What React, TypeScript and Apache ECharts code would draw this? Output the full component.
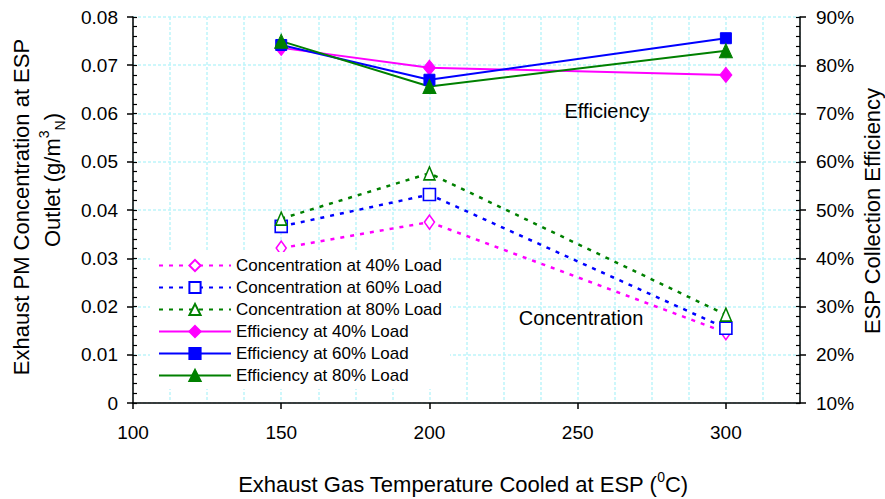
import React, { useEffect, useRef } from 'react';
import * as echarts from 'echarts';

const FONT = "'Liberation Sans', Arial, Helvetica, sans-serif";

// Data
const temps = [150, 200, 300];
const conc40 = [0.0321, 0.0375, 0.0146];
const conc60 = [0.0366, 0.0432, 0.0155];
const conc80 = [0.0382, 0.0476, 0.0183];
const eff40 = [83.6, 79.5, 78.0];
const eff60 = [84.2, 77.0, 85.6];
const eff80 = [85.0, 75.6, 83.0];

const seriesNames = [
  'Concentration at 40% Load',
  'Concentration at 60% Load',
  'Concentration at 80% Load',
  'Efficiency at 40% Load',
  'Efficiency at 60% Load',
  'Efficiency at 80% Load',
];

const MAGENTA = '#ff00ff';
const BLUE = '#0000ff';
const GREEN = '#008000';
const GRID_COLOR = '#bdf5fa';

const pairs = (vals: number[]) => temps.map((t, i) => [t, vals[i]]);

function concSeries(name: string, vals: number[], color: string, symbol: string, size: any) {
  return {
    name,
    type: 'line',
    xAxisIndex: 0,
    yAxisIndex: 0,
    data: pairs(vals),
    symbol,
    symbolSize: size,
    lineStyle: { color, width: 2.5, type: [4, 6], cap: 'butt' },
    itemStyle: { color: '#ffffff', borderColor: color, borderWidth: 1.6 },
    emphasis: { disabled: true },
  };
}

function effSeries(name: string, vals: number[], color: string, symbol: string, size: any) {
  return {
    name,
    type: 'line',
    xAxisIndex: 0,
    yAxisIndex: 1,
    data: pairs(vals),
    symbol,
    symbolSize: size,
    lineStyle: { color, width: 2 },
    itemStyle: { color, borderColor: color, borderWidth: 1 },
    emphasis: { disabled: true },
  };
}

const gridLineStyle = { color: GRID_COLOR, width: 1.5, type: [3, 2] };

const option: any = {
  animation: false,
  textStyle: { fontFamily: FONT },
  grid: { left: 133, right: 85, top: 17, bottom: 96 },
  legend: {
    orient: 'vertical',
    left: 150,
    top: 252,
    z: 10,
    padding: [5, 8, 5, 8],
    backgroundColor: '#ffffff',
    itemWidth: 72,
    itemHeight: 14,
    itemGap: 5,
    data: seriesNames,
    textStyle: { fontFamily: FONT, fontSize: 17, color: '#000', lineHeight: 17 },
  },
  xAxis: [
    {
      type: 'value',
      min: 100,
      max: 325,
      interval: 50,
      position: 'bottom',
      z: 3,
      axisLine: { show: true, lineStyle: { color: '#000', width: 1.5 } },
      axisTick: { show: true, inside: false, length: 6, lineStyle: { color: '#000', width: 1.5 } },
      axisLabel: { show: true, margin: 20, fontSize: 19, color: '#000', fontFamily: FONT, showMaxLabel: false },
      splitLine: { show: false },
    },
    {
      type: 'value',
      min: 100,
      max: 325,
      interval: 12.5,
      position: 'bottom',
      z: 0,
      axisLine: { show: false },
      axisTick: { show: false },
      axisLabel: { show: false },
      splitLine: { show: true, lineStyle: gridLineStyle },
    },
  ],
  yAxis: [
    {
      type: 'value',
      min: 0,
      max: 0.08,
      interval: 0.01,
      position: 'left',
      z: 3,
      axisLine: { show: true, lineStyle: { color: '#000', width: 1.5 } },
      axisTick: { show: true, inside: false, length: 6, lineStyle: { color: '#000', width: 1.5 } },
      axisLabel: {
        margin: 15,
        fontSize: 19,
        color: '#000',
        fontFamily: FONT,
        formatter: (v: number) => (v === 0 ? '0' : v.toFixed(2)),
      },
      splitLine: { show: false },
    },
    {
      type: 'value',
      min: 10,
      max: 90,
      interval: 10,
      position: 'right',
      z: 3,
      axisLine: { show: true, lineStyle: { color: '#000', width: 1.5 } },
      axisTick: { show: true, inside: false, length: 6, lineStyle: { color: '#000', width: 1.5 } },
      axisLabel: {
        margin: 16,
        fontSize: 19,
        color: '#000',
        fontFamily: FONT,
        formatter: (v: number) => `${v}%`,
      },
      splitLine: { show: false },
    },
    {
      type: 'value',
      min: 0,
      max: 0.08,
      interval: 0.002,
      position: 'left',
      z: 3,
      axisLine: { show: false },
      axisTick: { show: true, inside: true, length: 4, lineStyle: { color: '#000', width: 1.2 } },
      axisLabel: { show: false },
      splitLine: { show: false },
    },
    {
      type: 'value',
      min: 10,
      max: 90,
      interval: 2,
      position: 'right',
      z: 3,
      axisLine: { show: false },
      axisTick: { show: true, inside: true, length: 4, lineStyle: { color: '#000', width: 1.2 } },
      axisLabel: { show: false },
      splitLine: { show: false },
    },
    {
      type: 'value',
      min: 0,
      max: 0.08,
      interval: 0.01,
      position: 'left',
      z: 0,
      axisLine: { show: false },
      axisTick: { show: false },
      axisLabel: { show: false },
      splitLine: { show: true, lineStyle: gridLineStyle },
    },
  ],
  series: [
    concSeries(seriesNames[0], conc40, MAGENTA, 'diamond', [10, 14]),
    concSeries(seriesNames[1], conc60, BLUE, 'rect', 12),
    concSeries(seriesNames[2], conc80, GREEN, 'triangle', [11, 13]),
    effSeries(seriesNames[3], eff40, MAGENTA, 'diamond', [12, 15]),
    effSeries(seriesNames[4], eff60, BLUE, 'rect', 11),
    effSeries(seriesNames[5], eff80, GREEN, 'triangle', [13, 14]),
  ],
  graphic: [
    {
      type: 'text',
      x: 21,
      y: 207,
      z: 10,
      rotation: Math.PI / 2,
      style: {
        text: 'Exhaust PM Concentration at ESP',
        font: `22px ${FONT}`,
        fill: '#000',
        align: 'center',
        verticalAlign: 'middle',
      },
    },
    {
      type: 'text',
      x: 52,
      y: 180,
      z: 10,
      rotation: Math.PI / 2,
      style: {
        text: 'Outlet (g/m{sup|3}{sub|N})',
        font: `22px ${FONT}`,
        fill: '#000',
        align: 'center',
        verticalAlign: 'middle',
        lineHeight: 30,
        rich: {
          sup: { fontSize: 14, fontFamily: FONT, fill: '#000', verticalAlign: 'top', lineHeight: 30 },
          sub: { fontSize: 14, fontFamily: FONT, fill: '#000', verticalAlign: 'bottom', lineHeight: 30 },
        },
      },
    },
    {
      type: 'text',
      x: 872,
      y: 211,
      z: 10,
      rotation: Math.PI / 2,
      style: {
        text: 'ESP Collection Efficiency',
        font: `22px ${FONT}`,
        fill: '#000',
        align: 'center',
        verticalAlign: 'middle',
      },
    },
    {
      type: 'text',
      x: 463,
      y: 484,
      z: 10,
      style: {
        text: 'Exhaust Gas Temperature Cooled at ESP ({sup|0}C)',
        font: `22px ${FONT}`,
        fill: '#000',
        align: 'center',
        verticalAlign: 'middle',
        lineHeight: 28,
        rich: {
          sup: { fontSize: 14, fontFamily: FONT, fill: '#000', verticalAlign: 'top', lineHeight: 28 },
        },
      },
    },
    {
      type: 'text',
      x: 607,
      y: 111,
      z: 10,
      style: {
        text: 'Efficiency',
        font: `20px ${FONT}`,
        fill: '#000',
        align: 'center',
        verticalAlign: 'middle',
      },
    },
    {
      type: 'text',
      x: 581,
      y: 318,
      z: 10,
      style: {
        text: 'Concentration',
        font: `20px ${FONT}`,
        fill: '#000',
        align: 'center',
        verticalAlign: 'middle',
      },
    },
  ],
};

export default function App() {
  const ref = useRef<HTMLDivElement>(null);
  useEffect(() => {
    if (!ref.current) return;
    const chart = echarts.init(ref.current, null, { renderer: 'svg' });
    chart.setOption(option);
    return () => {
      chart.dispose();
    };
  }, []);
  return (
    <div
      ref={ref}
      style={{ position: 'fixed', left: 0, top: 0, width: 885, height: 499, background: '#ffffff' }}
    />
  );
}
